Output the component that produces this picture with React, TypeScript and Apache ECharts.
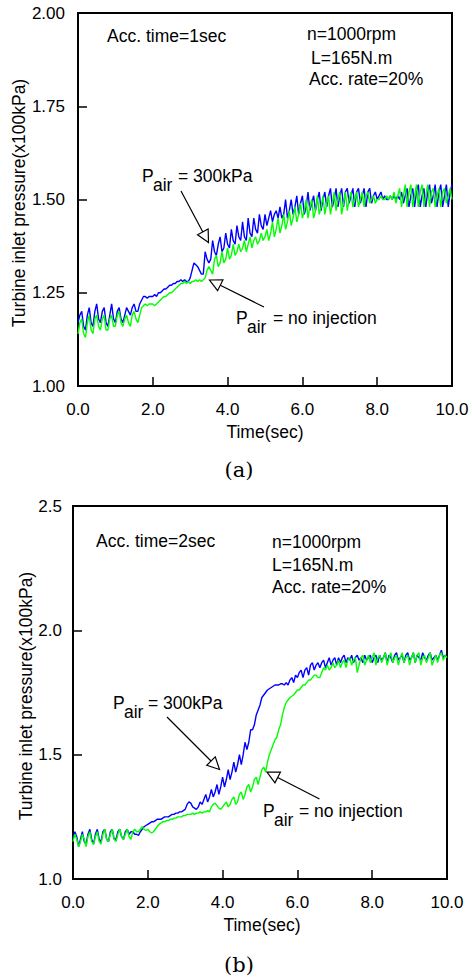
import React, { useEffect, useRef } from "react";
import * as echarts from "echarts";

// time axis (s), 0.00 .. 10.00 step 0.05
const time: number[] = Array.from({ length: 201 }, (_, i) => i / 20);

// (a) Acc. time = 1 sec
const a_air300: number[] = [
  1.17, 1.19, 1.20, 1.16, 1.15, 1.19, 1.21, 1.17, 1.16, 1.20,
  1.22, 1.18, 1.17, 1.20, 1.21, 1.17, 1.16, 1.19, 1.22, 1.18,
  1.17, 1.20, 1.21, 1.18, 1.17, 1.19, 1.21, 1.20, 1.19, 1.21,
  1.22, 1.20, 1.20, 1.22, 1.23, 1.24, 1.24, 1.235, 1.24, 1.24,
  1.24, 1.245, 1.24, 1.25, 1.25, 1.255, 1.26, 1.26, 1.265, 1.27,
  1.27, 1.275, 1.275, 1.28, 1.28, 1.285, 1.28, 1.285, 1.28, 1.28,
  1.29, 1.31, 1.33, 1.325, 1.32, 1.31, 1.30, 1.30, 1.36, 1.34,
  1.33, 1.34, 1.39, 1.36, 1.35, 1.38, 1.40, 1.36, 1.37, 1.41,
  1.38, 1.37, 1.42, 1.39, 1.38, 1.43, 1.40, 1.39, 1.44, 1.40,
  1.39, 1.45, 1.41, 1.40, 1.45, 1.42, 1.41, 1.46, 1.43, 1.42,
  1.46, 1.43, 1.45, 1.47, 1.44, 1.46, 1.47, 1.45, 1.48, 1.45,
  1.46, 1.50, 1.45, 1.47, 1.50, 1.46, 1.48, 1.51, 1.46, 1.49,
  1.51, 1.46, 1.48, 1.52, 1.47, 1.49, 1.51, 1.47, 1.50, 1.52,
  1.47, 1.50, 1.52, 1.48, 1.51, 1.53, 1.48, 1.50, 1.53, 1.48,
  1.51, 1.53, 1.48, 1.52, 1.53, 1.49, 1.51, 1.53, 1.48, 1.52,
  1.53, 1.49, 1.51, 1.53, 1.48, 1.52, 1.53, 1.49, 1.51, 1.52,
  1.50, 1.51, 1.52, 1.50, 1.51, 1.50, 1.50, 1.51, 1.50, 1.51,
  1.50, 1.51, 1.50, 1.52, 1.49, 1.51, 1.53, 1.48, 1.51, 1.53,
  1.48, 1.52, 1.54, 1.48, 1.51, 1.53, 1.48, 1.52, 1.54, 1.49,
  1.51, 1.54, 1.48, 1.52, 1.54, 1.48, 1.51, 1.54, 1.48, 1.52,
  1.54,
];
const a_noInj: number[] = [
  1.14, 1.17, 1.18, 1.14, 1.13, 1.17, 1.19, 1.15, 1.14, 1.18,
  1.19, 1.16, 1.15, 1.18, 1.19, 1.15, 1.15, 1.18, 1.19, 1.16,
  1.16, 1.19, 1.20, 1.17, 1.16, 1.18, 1.19, 1.17, 1.16, 1.19,
  1.20, 1.18, 1.17, 1.19, 1.21, 1.215, 1.22, 1.215, 1.22, 1.22,
  1.22, 1.215, 1.22, 1.225, 1.23, 1.235, 1.24, 1.24, 1.245, 1.25,
  1.25, 1.255, 1.26, 1.265, 1.27, 1.275, 1.275, 1.28, 1.275, 1.28,
  1.275, 1.28, 1.28, 1.285, 1.28, 1.285, 1.28, 1.285, 1.29, 1.31,
  1.32, 1.31, 1.30, 1.34, 1.35, 1.32, 1.33, 1.36, 1.33, 1.34,
  1.37, 1.34, 1.35, 1.38, 1.35, 1.36, 1.38, 1.36, 1.37, 1.39,
  1.36, 1.38, 1.40, 1.37, 1.39, 1.40, 1.38, 1.39, 1.41, 1.39,
  1.40, 1.42, 1.39, 1.41, 1.44, 1.40, 1.42, 1.45, 1.41, 1.43,
  1.46, 1.42, 1.44, 1.47, 1.43, 1.45, 1.48, 1.44, 1.46, 1.49,
  1.45, 1.47, 1.50, 1.45, 1.48, 1.50, 1.45, 1.47, 1.51, 1.46,
  1.48, 1.51, 1.46, 1.49, 1.51, 1.46, 1.49, 1.52, 1.47, 1.50,
  1.52, 1.46, 1.49, 1.52, 1.47, 1.50, 1.52, 1.48, 1.50, 1.52,
  1.48, 1.50, 1.52, 1.48, 1.51, 1.52, 1.49, 1.50, 1.51, 1.49,
  1.50, 1.50, 1.51, 1.50, 1.50, 1.51, 1.50, 1.51, 1.50, 1.52,
  1.49, 1.51, 1.53, 1.48, 1.51, 1.54, 1.48, 1.52, 1.54, 1.48,
  1.51, 1.54, 1.48, 1.52, 1.54, 1.48, 1.51, 1.54, 1.48, 1.52,
  1.53, 1.48, 1.51, 1.53, 1.48, 1.52, 1.53, 1.49, 1.51, 1.53,
  1.50,
];

// (b) Acc. time = 2 sec
const b_air300: number[] = [
  1.16, 1.19, 1.17, 1.13, 1.16, 1.19, 1.15, 1.14, 1.18, 1.20,
  1.16, 1.14, 1.18, 1.20, 1.16, 1.15, 1.19, 1.20, 1.16, 1.15,
  1.19, 1.20, 1.16, 1.16, 1.19, 1.20, 1.17, 1.16, 1.19, 1.20,
  1.18, 1.19, 1.19, 1.18, 1.18, 1.175, 1.19, 1.20, 1.21, 1.215,
  1.22, 1.225, 1.23, 1.23, 1.235, 1.24, 1.24, 1.24, 1.245, 1.25,
  1.25, 1.25, 1.255, 1.26, 1.26, 1.265, 1.265, 1.27, 1.27, 1.275,
  1.28, 1.30, 1.31, 1.305, 1.29, 1.285, 1.28, 1.29, 1.31, 1.30,
  1.32, 1.34, 1.31, 1.33, 1.36, 1.33, 1.35, 1.38, 1.34, 1.37,
  1.41, 1.37, 1.40, 1.44, 1.40, 1.43, 1.47, 1.43, 1.46, 1.50,
  1.46, 1.50, 1.55, 1.52, 1.55, 1.60, 1.60, 1.62, 1.66, 1.68,
  1.70, 1.73, 1.74, 1.75, 1.76, 1.765, 1.77, 1.775, 1.78, 1.78,
  1.78, 1.785, 1.785, 1.78, 1.79, 1.78, 1.80, 1.81, 1.79, 1.82,
  1.81, 1.83, 1.84, 1.81, 1.84, 1.85, 1.82, 1.86, 1.87, 1.84,
  1.86, 1.87, 1.85, 1.87, 1.88, 1.85, 1.87, 1.89, 1.86, 1.88,
  1.89, 1.86, 1.89, 1.87, 1.89, 1.90, 1.87, 1.89, 1.88, 1.90,
  1.87, 1.89, 1.90, 1.88, 1.89, 1.87, 1.90, 1.88, 1.89, 1.90,
  1.87, 1.89, 1.90, 1.87, 1.90, 1.88, 1.89, 1.91, 1.87, 1.90,
  1.89, 1.87, 1.90, 1.91, 1.88, 1.89, 1.90, 1.87, 1.90, 1.91,
  1.88, 1.89, 1.91, 1.87, 1.90, 1.89, 1.88, 1.91, 1.89, 1.88,
  1.90, 1.91, 1.88, 1.89, 1.90, 1.88, 1.90, 1.92, 1.89, 1.90,
  1.89,
];
const b_noInj: number[] = [
  1.15, 1.18, 1.16, 1.13, 1.15, 1.18, 1.16, 1.13, 1.17, 1.19,
  1.15, 1.14, 1.17, 1.19, 1.15, 1.14, 1.18, 1.20, 1.16, 1.15,
  1.18, 1.20, 1.16, 1.15, 1.18, 1.20, 1.17, 1.16, 1.18, 1.20,
  1.17, 1.16, 1.19, 1.20, 1.19, 1.19, 1.20, 1.21, 1.20, 1.195,
  1.20, 1.19, 1.185, 1.19, 1.20, 1.21, 1.22, 1.225, 1.23, 1.23,
  1.235, 1.235, 1.24, 1.24, 1.245, 1.245, 1.25, 1.25, 1.25, 1.255,
  1.255, 1.26, 1.26, 1.26, 1.265, 1.26, 1.265, 1.265, 1.27, 1.265,
  1.27, 1.27, 1.275, 1.27, 1.29, 1.30, 1.305, 1.295, 1.285, 1.28,
  1.29, 1.30, 1.31, 1.29, 1.30, 1.32, 1.33, 1.30, 1.31, 1.34,
  1.35, 1.32, 1.34, 1.37, 1.38, 1.35, 1.37, 1.40, 1.41, 1.38,
  1.41, 1.44, 1.45, 1.43, 1.47, 1.50, 1.52, 1.54, 1.56, 1.57,
  1.60, 1.62, 1.66, 1.69, 1.71, 1.72, 1.73, 1.735, 1.74, 1.75,
  1.76, 1.76, 1.77, 1.78, 1.78, 1.79, 1.80, 1.80, 1.81, 1.82,
  1.82, 1.81, 1.81, 1.83, 1.85, 1.84, 1.86, 1.84, 1.85, 1.87,
  1.85, 1.86, 1.88, 1.85, 1.87, 1.88, 1.85, 1.88, 1.89, 1.86,
  1.88, 1.89, 1.83, 1.86, 1.89, 1.90, 1.86, 1.88, 1.90, 1.87,
  1.89, 1.91, 1.86, 1.89, 1.90, 1.87, 1.89, 1.91, 1.86, 1.89,
  1.91, 1.87, 1.89, 1.90, 1.86, 1.89, 1.91, 1.87, 1.89, 1.90,
  1.86, 1.89, 1.91, 1.87, 1.90, 1.91, 1.86, 1.89, 1.90, 1.87,
  1.89, 1.91, 1.86, 1.88, 1.90, 1.87, 1.90, 1.91, 1.88, 1.90,
  1.89,
];

const xTicks = { min: 0, max: 10, interval: 2 };
const yTicksA = { min: 1, max: 2, interval: 0.25 };
const yTicksB = { min: 1, max: 2.5, interval: 0.5 };

const FONT = 'Arial, "Liberation Sans", sans-serif';
const BLUE = "#0000ff";
const GREEN = "#00ff00";

function pairs(v: number[]) {
  return v.map((y, i) => [time[i], y]);
}

function txt(text: string, x: number, y: number, size = 17.5, align = "left", extra: any = {}) {
  return {
    type: "text",
    x,
    y,
    z: 10,
    ...extra,
    style: {
      text,
      fill: "#000",
      fontSize: size,
      fontFamily: extra.fontFamily || FONT,
      align,
      verticalAlign: "middle",
    },
  };
}

function arrow(x1: number, y1: number, tx: number, ty: number, len = 12, hw = 6) {
  const dx = tx - x1;
  const dy = ty - y1;
  const L = Math.hypot(dx, dy);
  const ux = dx / L;
  const uy = dy / L;
  const bx = tx - ux * len;
  const by = ty - uy * len;
  const px = -uy;
  const py = ux;
  return [
    {
      type: "line",
      z: 10,
      shape: { x1, y1, x2: bx, y2: by },
      style: { stroke: "#000", lineWidth: 1.2 },
    },
    {
      type: "polygon",
      z: 11,
      shape: {
        points: [
          [tx, ty],
          [bx + px * hw, by + py * hw],
          [bx - px * hw, by - py * hw],
        ],
      },
      style: { fill: "#fff", stroke: "#000", lineWidth: 1.2 },
    },
  ];
}

function pAir(px: number, py: number, eqX: number, rest: string) {
  return [
    txt("P", px, py),
    txt("air", px + 11, py + 9),
    txt(rest, eqX, py),
  ];
}

export default function App() {
  const ref = useRef<HTMLDivElement>(null);
  useEffect(() => {
    if (!ref.current) return;
    const chart = echarts.init(ref.current, null, { renderer: "svg" });

    const axisX = (gi: number) => ({
      type: "value",
      gridIndex: gi,
      ...xTicks,
      axisLine: { show: false },
      axisTick: { show: true, inside: true, length: 9, lineStyle: { color: "#000", width: 1.5 } },
      axisLabel: {
        margin: 15,
        color: "#000",
        fontSize: 17,
        fontFamily: FONT,
        formatter: (v: number) => v.toFixed(1),
      },
      splitLine: { show: false },
    });
    const axisY = (gi: number, t: any, dec: number, margin: number) => ({
      type: "value",
      gridIndex: gi,
      ...t,
      axisLine: { show: false },
      axisTick: { show: true, inside: true, length: 9, lineStyle: { color: "#000", width: 1.5 } },
      axisLabel: {
        margin,
        color: "#000",
        fontSize: 17,
        fontFamily: FONT,
        formatter: (v: number) => v.toFixed(dec),
      },
      splitLine: { show: false },
    });

    const lineSeries = (data: number[], color: string, gi: number) => ({
      type: "line",
      xAxisIndex: gi,
      yAxisIndex: gi,
      data: pairs(data),
      showSymbol: false,
      symbol: "none",
      lineStyle: { color, width: 1.4 },
      itemStyle: { color },
      z: 2,
    });

    chart.setOption({
      animation: false,
      backgroundColor: "#fff",
      grid: [
        { left: 78, top: 13, width: 374, height: 373, show: true, borderColor: "#000", borderWidth: 2, backgroundColor: "transparent" },
        { left: 73, top: 506, width: 374, height: 373, show: true, borderColor: "#000", borderWidth: 2, backgroundColor: "transparent" },
      ],
      xAxis: [axisX(0), axisX(1)],
      yAxis: [axisY(0, yTicksA, 2, 13), axisY(1, yTicksB, 1, 11)],
      series: [
        lineSeries(a_air300, BLUE, 0),
        lineSeries(a_noInj, GREEN, 0),
        lineSeries(b_air300, BLUE, 1),
        lineSeries(b_noInj, GREEN, 1),
      ],
      graphic: [
        // chart (a)
        txt("Acc. time=1sec", 107, 36),
        txt("n=1000rpm", 307, 34),
        txt("L=165N.m", 311, 58),
        txt("Acc. rate=20%", 309, 79),
        ...pAir(142, 176, 178, "= 300kPa"),
        ...arrow(181, 191, 208.5, 242.5),
        ...pAir(236, 318, 273, "= no injection"),
        ...arrow(264, 307, 209.5, 280),
        txt("Turbine inlet pressure(x100kPa)", 19, 203, 17.5, "center", { rotation: Math.PI / 2 }),
        txt("Time(sec)", 265, 432, 17.5, "center"),
        txt("(a)", 239, 470, 21, "center", { fontFamily: '"DejaVu Serif", serif' }),
        // chart (b)
        txt("Acc. time=2sec", 96, 541),
        txt("n=1000rpm", 272, 542),
        txt("L=165N.m", 272, 565),
        txt("Acc. rate=20%", 272, 587),
        ...pAir(113, 703, 148, "= 300kPa"),
        ...arrow(167, 717, 219.5, 769.5),
        ...pAir(263, 811, 299, "= no injection"),
        ...arrow(319.5, 799, 267, 772),
        txt("Turbine inlet pressure(x100kPa)", 26, 696, 17.5, "center", { rotation: Math.PI / 2 }),
        txt("Time(sec)", 262, 925, 17.5, "center"),
        txt("(b)", 239, 965, 21, "center", { fontFamily: '"DejaVu Serif", serif' }),
      ],
    });
    return () => chart.dispose();
  }, []);

  return (
    <div
      ref={ref}
      style={{ position: "fixed", left: 0, top: 0, width: 472, height: 977, background: "#fff" }}
    />
  );
}
